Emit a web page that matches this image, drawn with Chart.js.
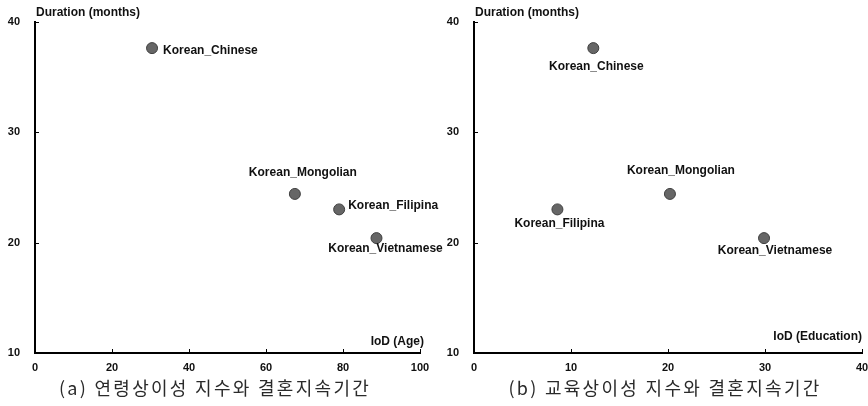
<!DOCTYPE html>
<html>
<head>
<meta charset="utf-8">
<script src="https://cdn.jsdelivr.net/npm/chart.js@4.4.1/dist/chart.umd.min.js"></script>
<style>
  body { margin: 0; background: #fff; overflow: hidden; }
  #wrap { position: relative; width: 868px; height: 406px; overflow: hidden; }
  canvas { position: absolute; top: 0; }
  .caption {
    position: absolute; top: 374px; height: 26px; line-height: 26px;
    font-family: "Noto Sans CJK KR", sans-serif; font-size: 18px; color: #2a2a2a;
    text-align: center; letter-spacing: 2.3px; white-space: nowrap;
  }
</style>
</head>
<body>
<div id="wrap">
  <canvas id="ageChart" style="left:0px" width="460" height="375"></canvas>
  <canvas id="eduChart" style="left:430px" width="450" height="375"></canvas>
  <div class="caption" style="left:35px; width:360px">(a) 연령상이성 지수와 결혼지속기간</div>
  <div class="caption" style="left:485px; width:360px">(b) 교육상이성 지수와 결혼지속기간</div>
</div>
<script>
// ---- data ----
const groups = ["Korean_Chinese", "Korean_Mongolian", "Korean_Filipina", "Korean_Vietnamese"];
const duration = [37.6, 24.4, 23.0, 20.4];     // months
const iodAge = [30.4, 67.5, 79.0, 88.7];
const iodEducation = [12.3, 20.2, 8.6, 29.9];
const yTicks = [10, 20, 30, 40];
const ageTicks = [0, 20, 40, 60, 80, 100];
const eduTicks = [0, 10, 20, 30, 40];

// label placement (pixel offsets from point, alignment)
const ageLabelPos = [
    { dx: 11, dy: 3, align: "left" },
    { dx: 8, dy: -21, align: "center" },
    { dx: 9, dy: -4, align: "left" },
    { dx: 9, dy: 11, align: "center" }
];
const eduLabelPos = [
    { dx: 3, dy: 19, align: "center" },
    { dx: 11, dy: -23, align: "center" },
    { dx: 2, dy: 14, align: "center" },
    { dx: 11, dy: 13, align: "center" }
];

const FONT = "bold 12px 'Liberation Sans', Arial, sans-serif";

const decorPlugin = {
    id: "decor",
    afterDraw(chart, args, opts) {
        const ctx = chart.ctx;
        const area = chart.chartArea;
        const xs = chart.scales.x, ys = chart.scales.y;
        ctx.save();
        // inward tick marks
        ctx.strokeStyle = "#000";
        ctx.lineWidth = 1;
        ctx.beginPath();
        xs.ticks.forEach(t => {
            const px = Math.round(xs.getPixelForValue(t.value)) + 0.5;
            ctx.moveTo(px, area.bottom);
            ctx.lineTo(px, area.bottom - 4);
        });
        ys.ticks.forEach(t => {
            const py = Math.round(ys.getPixelForValue(t.value)) + 0.5;
            ctx.moveTo(area.left, py);
            ctx.lineTo(area.left + 4, py);
        });
        ctx.stroke();

        ctx.fillStyle = "#111";
        ctx.font = FONT;
        ctx.textBaseline = "middle";
        // axis titles
        ctx.textAlign = "left";
        ctx.fillText("Duration (months)", area.left + 1, area.top - 9);
        ctx.textAlign = "right";
        ctx.fillText(opts.xTitle, area.right + opts.titleDx, area.bottom + opts.titleDy);

        // point labels
        const meta = chart.getDatasetMeta(0);
        meta.data.forEach((pt, i) => {
            const p = opts.labelPos[i];
            ctx.textAlign = p.align;
            ctx.fillText(groups[i], pt.x + p.dx, pt.y + p.dy);
        });
        ctx.restore();
    }
};

function makeChart(id, xValues, xTickList, xTitle, labelPos, yWidth, padRight, titleDx, titleDy) {
    const points = xValues.map((x, i) => ({ x: x, y: duration[i] }));
    return new Chart(document.getElementById(id), {
        type: "scatter",
        data: {
            datasets: [{
                data: points,
                backgroundColor: "#666666",
                borderColor: "#3f3f3f",
                borderWidth: 1,
                pointRadius: 5.5,
                pointHoverRadius: 5.5
            }]
        },
        options: {
            responsive: false,
            animation: false,
            layout: { padding: { top: 20, right: padRight, left: 0, bottom: 0 } },
            plugins: {
                legend: { display: false },
                tooltip: { enabled: false },
                decor: { xTitle: xTitle, labelPos: labelPos, titleDx: titleDx, titleDy: titleDy }
            },
            scales: {
                x: {
                    type: "linear",
                    min: xTickList[0],
                    max: xTickList[xTickList.length - 1],
                    afterBuildTicks: s => { s.ticks = xTickList.map(v => ({ value: v })); },
                    afterFit: s => { s.height = 22; },
                    grid: { display: false, drawTicks: false },
                    border: { display: true, color: "#000", width: 2 },
                    ticks: { color: "#111", font: { family: "'Liberation Sans', Arial", size: 11, weight: "bold" }, padding: 8, maxRotation: 0 }
                },
                y: {
                    type: "linear",
                    min: yTicks[0],
                    max: yTicks[yTicks.length - 1],
                    afterBuildTicks: s => { s.ticks = yTicks.map(v => ({ value: v })); },
                    afterFit: s => { s.width = yWidth; },
                    grid: { display: false, drawTicks: false },
                    border: { display: true, color: "#000", width: 2 },
                    ticks: { color: "#111", font: { family: "'Liberation Sans', Arial", size: 11, weight: "bold" }, padding: 15 }
                }
            }
        },
        plugins: [decorPlugin]
    });
}

makeChart("ageChart", iodAge, ageTicks, "IoD (Age)", ageLabelPos, 35, 40, 4, -11);
makeChart("eduChart", iodEducation, eduTicks, "IoD (Education)", eduLabelPos, 44, 18, 0, -16);
</script>
</body>
</html>
